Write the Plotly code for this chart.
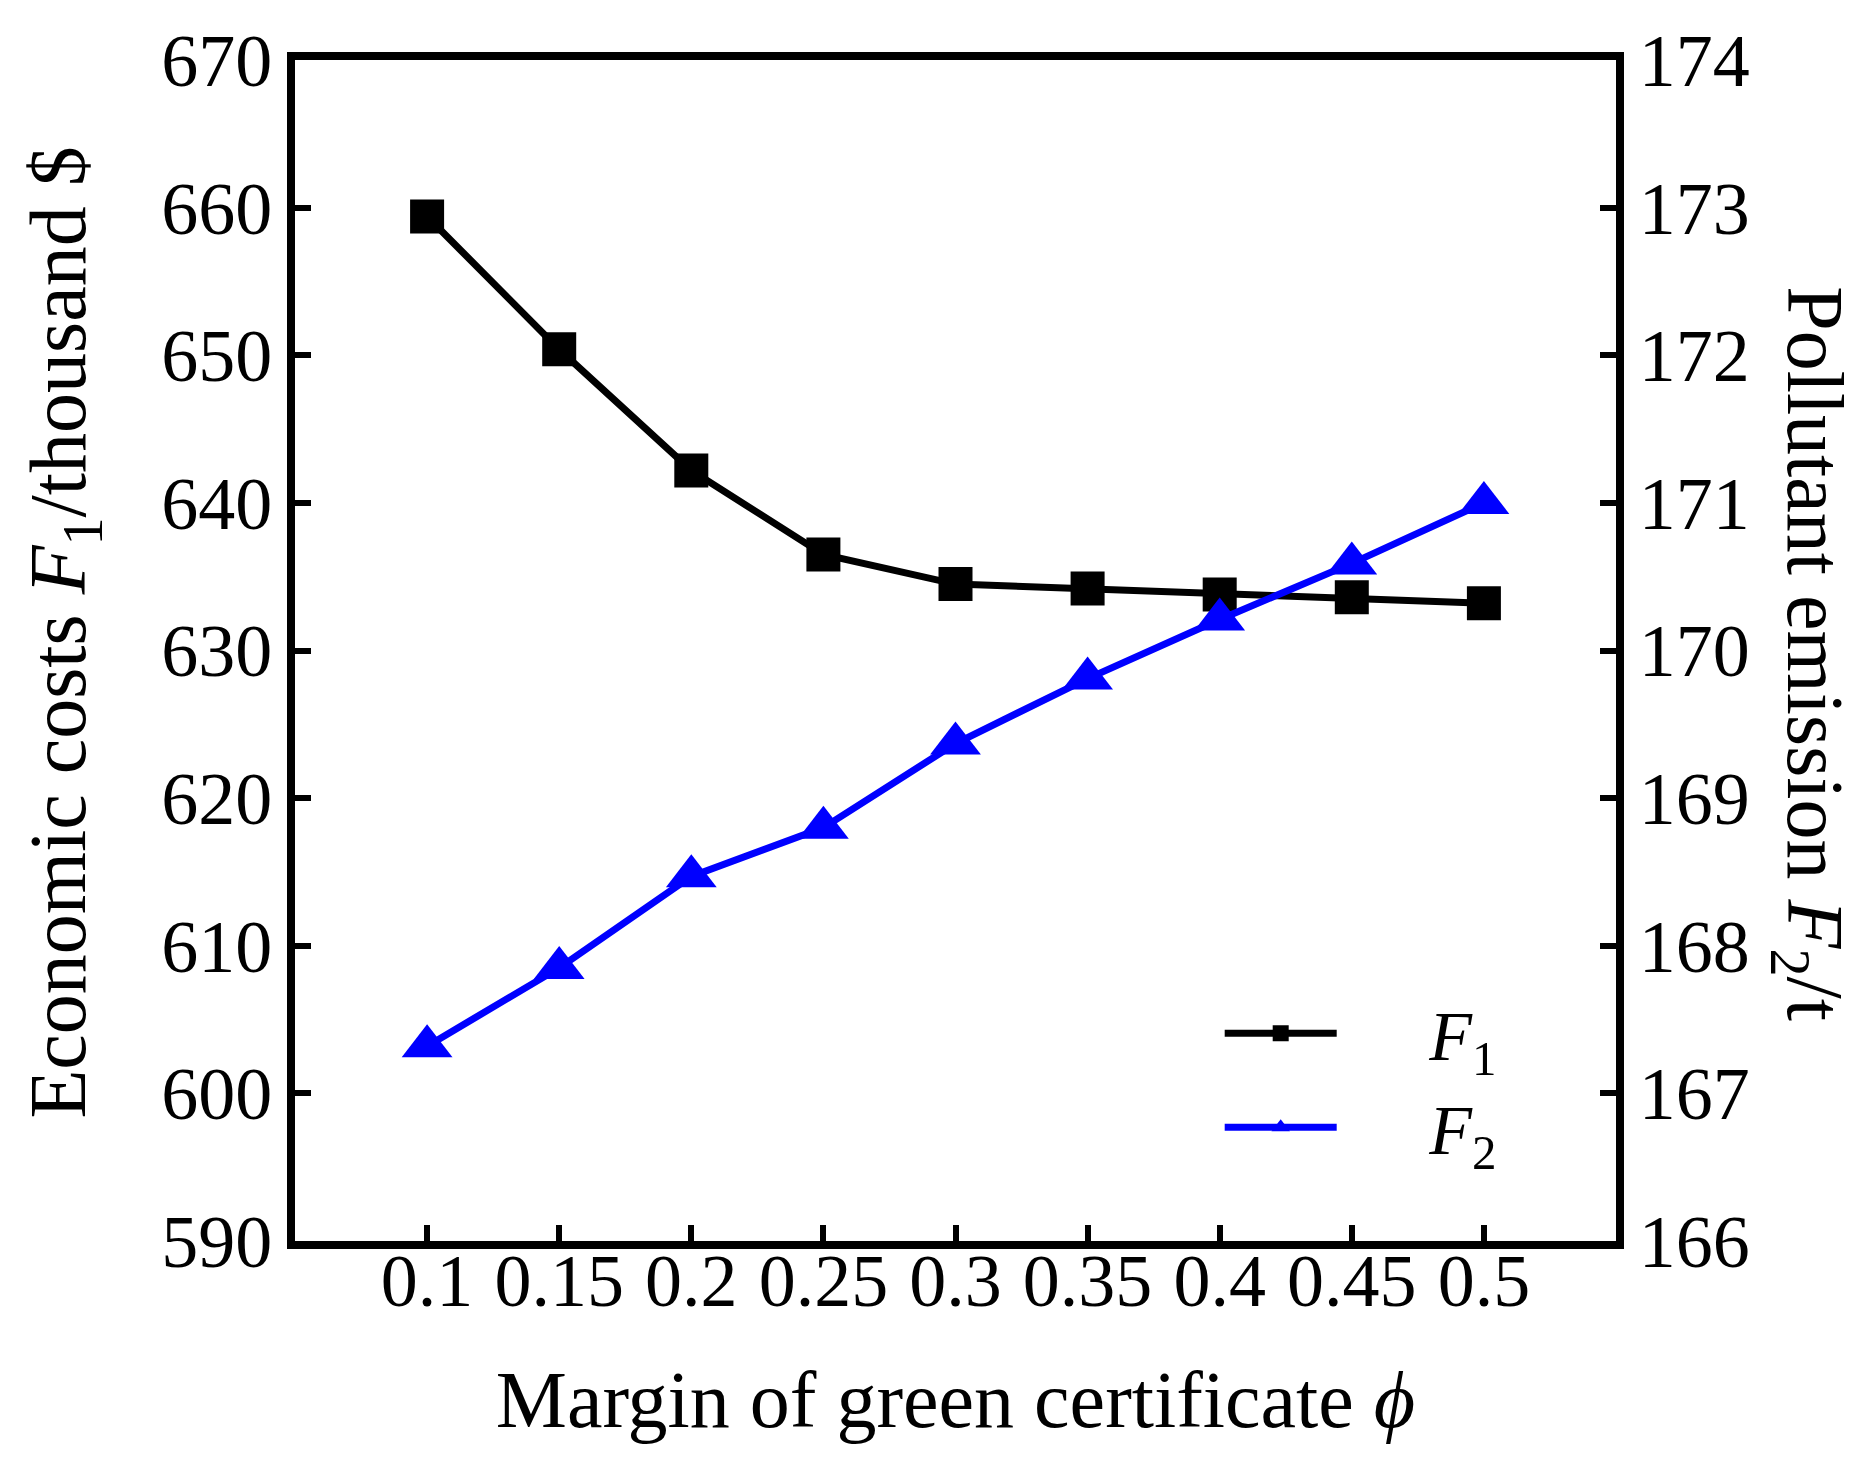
import plotly.graph_objects as go

x_vals = [0.1, 0.15, 0.2, 0.25, 0.3, 0.35, 0.4, 0.45, 0.5]
x_labels = ["0.1", "0.15", "0.2", "0.25", "0.3", "0.35", "0.4", "0.45", "0.5"]
f1_cost = [659.4, 650.4, 642.2, 636.5, 634.5, 634.2, 633.8, 633.6, 633.2]
f2_emission = [167.32, 167.85, 168.47, 168.80, 169.37, 169.81, 170.21, 170.59, 171.0]
left_ticks = [590, 600, 610, 620, 630, 640, 650, 660, 670]
right_ticks = [166, 167, 168, 169, 170, 171, 172, 173, 174]

FONT = "Liberation Serif"
FS_TICK = 74
FS_TITLE = 80
PAD = "\u00a0" * 5

fig = go.Figure()
fig.add_trace(go.Scatter(
    x=x_vals, y=f1_cost, name=PAD + "<i>F</i><sub>1</sub>", mode="lines+markers",
    line=dict(color="black", width=7),
    marker=dict(symbol="square", size=34, color="black"),
))
fig.add_trace(go.Scatter(
    x=x_vals, y=f2_emission, name=PAD + "<i>F</i><sub>2</sub>", mode="lines+markers",
    yaxis="y2",
    line=dict(color="#0000ff", width=7),
    marker=dict(symbol="triangle-up", size=44, color="#0000ff"),
))

axis_common = dict(
    showline=True, linecolor="black", linewidth=8,
    ticks="inside", ticklen=16, tickwidth=6, tickcolor="black",
    showgrid=False, zeroline=False,
    tickfont=dict(family=FONT, size=FS_TICK, color="black"),
)

fig.update_layout(
    width=1863, height=1467,
    margin=dict(l=287, r=255, t=50, b=234),
    paper_bgcolor="white", plot_bgcolor="white",
    font=dict(family=FONT, size=FS_TICK, color="black"),
    xaxis=dict(
        range=[0.05, 0.55], tickvals=x_vals, ticktext=x_labels,
        mirror=True, ticklabelstandoff=-32,
        title=dict(text="Margin of green certificate <i>ϕ</i>",
                   font=dict(family=FONT, size=FS_TITLE), standoff=53),
        **axis_common,
    ),
    yaxis=dict(
        range=[590, 670], tickvals=left_ticks,
        ticklabelstandoff=0,
        **axis_common,
    ),
    yaxis2=dict(
        range=[166, 174], tickvals=right_ticks, overlaying="y", side="right",
        ticklabelstandoff=0,
        **axis_common,
    ),
    legend=dict(
        x=0.70, y=0.22, xanchor="left", yanchor="top",
        bgcolor="rgba(0,0,0,0)", itemwidth=112,
        font=dict(family=FONT, size=70, color="black"),
        tracegroupgap=0,
    ),
    annotations=[
        dict(
            text="Economic costs <i>F</i><sub>1</sub>/thousand $",
            xref="paper", yref="paper", x=-0.175, y=0.515,
            xanchor="center", yanchor="middle", textangle=-90,
            showarrow=False, font=dict(family=FONT, size=FS_TITLE, color="black"),
        ),
        dict(
            text="Pollutant emission <i>F</i><sub>2</sub>/t",
            xref="paper", yref="paper", x=1.146, y=0.497,
            xanchor="center", yanchor="middle", textangle=90,
            showarrow=False, font=dict(family=FONT, size=FS_TITLE, color="black"),
        ),
    ],
)

fig.write_html("out.html")
